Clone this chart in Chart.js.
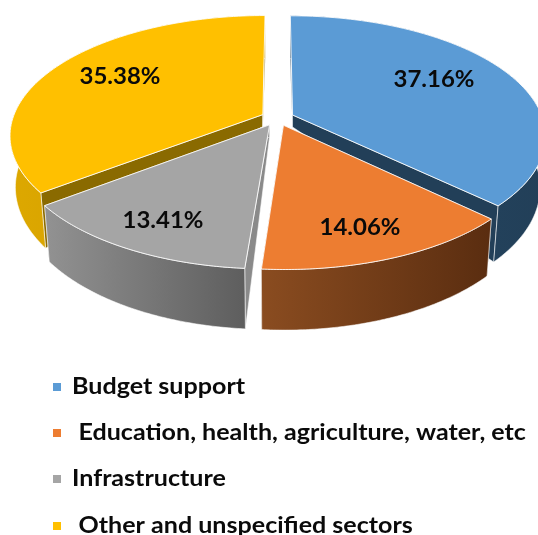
<!DOCTYPE html>
<html>
<head>
<meta charset="utf-8">
<style>
html,body{margin:0;padding:0;background:#fff;overflow:hidden}
canvas{display:block;filter:blur(0.55px)}
</style>
<script src="https://cdn.jsdelivr.net/npm/chart.js@4"></script>
</head>
<body>
<canvas id="c" width="538" height="535"></canvas>
<script>
const categories = ["Budget support", "Education, health, agriculture, water, etc", "Infrastructure", "Other and unspecified sectors"];
const shares = [37.16, 14.06, 13.41, 35.38];
const shareLabels = ["37.16%", "14.06%", "13.41%", "35.38%"];
const topColors = ["#5B9BD5", "#ED7D31", "#A5A5A5", "#FFC000"];

// 3-D look
const VIEW = {cx: 277.5, cy: 118, rx: 250, ry: 117, persp: 0.17, shrink: 0.98};
const wallLeft  = ["#264A67", "#8A4C20", "#929292", "#DDA800"];
const wallRight = ["#223F58", "#5A2D10", "#5E5E5E", "#C99700"];
const sideColors = ["#223F58", "#5A2D10", "#8A8A8A", "#8A6A00"];
const labelAt = [[434,80],[360,228],[163,221],[120,77]];
const legendY = [387,433,479,526];
const legendX = [72,78.5,72,78.5];
const paintOrder = [3,0,2,1];
const textStretch = 1.09;

function project(u, v) {
  const w = 1 - VIEW.persp * v;
  return [VIEW.cx + VIEW.rx * u / w, VIEW.cy + VIEW.ry * v / w];
}
function lower(p, apex) {
  if (apex) return [p[0], p[1] + 12];
  return [VIEW.cx + (p[0] - VIEW.cx) * VIEW.shrink, p[1] + 50 + 0.07 * (p[1] - VIEW.cy)];
}
function slicePoints(arc) {
  const mid = (arc.startAngle + arc.endAngle) / 2;
  const e = arc.options.offset / arc.outerRadius;
  const ox = Math.cos(mid) * e, oy = Math.sin(mid) * e;
  const apex = project(ox, oy), rim = [];
  const n = 90;
  for (let i = 0; i <= n; i++) {
    const a = arc.startAngle + (arc.endAngle - arc.startAngle) * i / n;
    rim.push(project(Math.cos(a) + ox, Math.sin(a) + oy));
  }
  return {apex, rim};
}
function trace(ctx, pts) {
  ctx.beginPath();
  pts.forEach((p, i) => i ? ctx.lineTo(p[0], p[1]) : ctx.moveTo(p[0], p[1]));
  ctx.closePath();
}
function stretchedText(ctx, t, x, y) {
  ctx.save();
  ctx.translate(x, y);
  ctx.scale(textStretch, 1);
  ctx.fillText(t, 0, 0);
  ctx.restore();
}
const pie3d = {
  id: 'pie3d',
  beforeDatasetDraw() { return false; },
  afterDatasetsDraw(chart) {
    const ctx = chart.ctx, arcs = chart.getDatasetMeta(0).data;
    ctx.save();
    ctx.lineJoin = 'round';
    paintOrder.forEach(i => {
      const {apex, rim} = slicePoints(arcs[i]);
      const apexLow = lower(apex, true);
      const first = rim[0], last = rim[rim.length - 1];
      // cut faces
      ctx.fillStyle = sideColors[i];
      ctx.strokeStyle = 'rgba(255,255,255,0.7)';
      ctx.lineWidth = 0.8;
      [first, last].forEach(p => {
        trace(ctx, [apex, p, lower(p), apexLow]);
        ctx.fill(); ctx.stroke();
      });
      // outer wall
      const xs = rim.map(p => p[0]);
      const g = ctx.createLinearGradient(Math.min(...xs), 0, Math.max(...xs), 0);
      g.addColorStop(0, wallLeft[i]);
      g.addColorStop(1, wallRight[i]);
      ctx.fillStyle = g;
      trace(ctx, rim.concat(rim.slice().reverse().map(p => lower(p))));
      ctx.fill(); ctx.stroke();
      // top face
      ctx.fillStyle = topColors[i];
      ctx.strokeStyle = 'rgba(255,255,255,0.85)';
      ctx.lineWidth = 1;
      trace(ctx, [apex].concat(rim));
      ctx.fill(); ctx.stroke();
    });
    ctx.restore();
  },
  afterDraw(chart) {
    const ctx = chart.ctx;
    ctx.save();
    ctx.fillStyle = '#0a0a0a';
    ctx.textBaseline = 'middle';
    ctx.textAlign = 'center';
    ctx.font = 'bold 22px Lato';
    shareLabels.forEach((t, i) => stretchedText(ctx, t, labelAt[i][0], labelAt[i][1]));
    ctx.textAlign = 'left';
    ctx.font = 'bold 23px Lato';
    categories.forEach((t, i) => {
      ctx.fillStyle = topColors[i];
      ctx.fillRect(53, legendY[i] - 4, 8, 8);
      ctx.fillStyle = '#0a0a0a';
      stretchedText(ctx, t, legendX[i], legendY[i]);
    });
    ctx.restore();
  }
};
new Chart(document.getElementById('c'), {
  type: 'pie',
  data: {
    labels: categories,
    datasets: [{data: shares, backgroundColor: topColors, offset: 17, borderWidth: 0}]
  },
  options: {
    responsive: false,
    animation: false,
    plugins: {legend: {display: false}, tooltip: {enabled: false}}
  },
  plugins: [pie3d]
});
</script>
</body>
</html>
